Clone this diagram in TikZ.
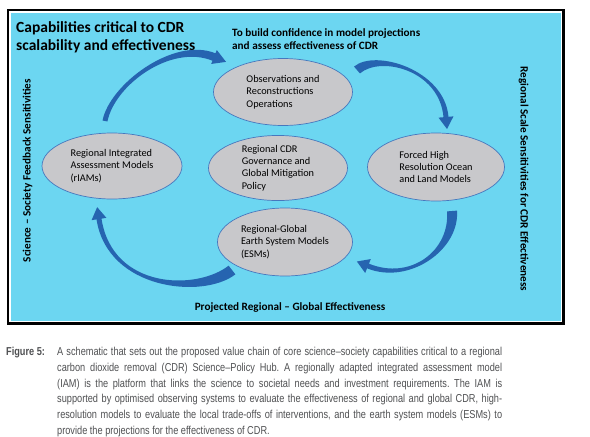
\documentclass[tikz,border=0pt]{standalone}
\usepackage{fontspec}
\setmainfont{Carlito}
\newfontfamily\capfont[FakeStretch=0.8]{Liberation Sans}
\usetikzlibrary{calc,shapes.geometric}
\definecolor{bgblue}{RGB}{108,214,241}
\definecolor{ellfill}{RGB}{200,200,203}
\definecolor{ellline}{RGB}{70,120,190}
\definecolor{arrblue}{RGB}{38,100,176}
\definecolor{capgray}{RGB}{80,81,83}
\newcommand\cdrArrow[5]{%
  \path ($(#1-0)!#2!90:(#1-1)$) coordinate (#1-A0)
        ($(#1-0)!#2!-90:(#1-1)$) coordinate (#1-B0)
        ($(#1-3)!#3!-90:(#1-2)$) coordinate (#1-A3)
        ($(#1-3)!#3!90:(#1-2)$) coordinate (#1-B3)
        ($(#1-3)!#4!-90:(#1-2)$) coordinate (#1-HA)
        ($(#1-3)!#4!90:(#1-2)$) coordinate (#1-HB)
        ($(#1-3)!#5!180:(#1-2)$) coordinate (#1-T);
  \path ($(#1-1)+(#1-A0)-(#1-0)$) coordinate (#1-A1)
        ($(#1-1)+(#1-B0)-(#1-0)$) coordinate (#1-B1)
        ($(#1-2)+(#1-A3)-(#1-3)$) coordinate (#1-A2)
        ($(#1-2)+(#1-B3)-(#1-3)$) coordinate (#1-B2);
  \fill[arrowfill] (#1-A0) .. controls (#1-A1) and (#1-A2) .. (#1-A3) -- (#1-HA) -- (#1-T)
     -- (#1-HB) -- (#1-B3) .. controls (#1-B2) and (#1-B1) .. (#1-B0) -- cycle;
}
\begin{document}
\begin{tikzpicture}[x=1pt,y=-1pt,
  ell/.style={ellipse, draw=ellline, line width=0.7pt, fill=ellfill, inner sep=0pt,
    align=left, font=\fontsize{10.3}{12.4}\selectfont},
  arrowfill/.style={fill=arrblue},
  sidelabel/.style={font=\bfseries\fontsize{11.2}{13}\selectfont, inner sep=0pt},
  captext/.style={font=\capfont\fontsize{11.5}{15.8}\selectfont, text=capgray, inner sep=0pt}]
\useasboundingbox[fill=white] (0,0) rectangle (590,437);
% frame
\draw[line width=2.5pt, fill=white] (7.8,10) rectangle (563.5,323.5);
\fill[bgblue] (10.5,12.5) rectangle (560.5,320.5);
% titles
\node[anchor=north west, inner sep=0pt, align=left, font=\bfseries\fontsize{15.5}{18}\selectfont] (title) at (16,21)
  {Capabilities critical to CDR\\scalability and effectiveness};
\node[anchor=north west, inner sep=0pt, align=left, font=\bfseries\fontsize{11.2}{13}\selectfont] (confid) at (232,28)
  {To build confidence in model projections\\and assess effectiveness of CDR};
\node[sidelabel, rotate=90] (left) at (27.5,170.5) {Science – Society Feedback Sensitivities};
\node[sidelabel, rotate=-90] (right) at (523.5,179) {Regional Scale Sensitivities for CDR Effectiveness};
\node[sidelabel, anchor=base] (bottom) at (290,310) {Projected Regional – Global Effectiveness};
% ellipses
\node[ell, minimum width=139pt, minimum height=67pt] (obs) at (283,92) {Observations and\\Reconstructions\\Operations\hspace*{8pt}};
\node[ell, minimum width=140pt, minimum height=66pt] (riam) at (112,166) {Regional Integrated\\Assessment Models\\(rIAMs)};
\node[ell, minimum width=139pt, minimum height=65pt] (gov) at (278,168) {Regional CDR\\Governance and\\Global Mitigation\\Policy};
\node[ell, minimum width=137pt, minimum height=68pt] (forced) at (436,167) {Forced High\\Resolution Ocean\\and Land Models};
\node[ell, minimum width=135pt, minimum height=68pt] (esm) at (285,242) {Regional-Global\\Earth System Models\\(ESMs)};
% arrows
\coordinate (a1-0) at (105,121); \coordinate (a1-1) at (112,85);
\coordinate (a1-2) at (172,40);  \coordinate (a1-3) at (214,57);
\cdrArrow{a1}{2.5pt}{4pt}{7.5pt}{13pt}
\coordinate (a2-0) at (357,70);  \coordinate (a2-1) at (378,52);
\coordinate (a2-2) at (442,70);  \coordinate (a2-3) at (446,117);
\cdrArrow{a2}{4.5pt}{2.5pt}{7.5pt}{12pt}
\coordinate (a3-0) at (452,211); \coordinate (a3-1) at (455,250);
\coordinate (a3-2) at (410,283); \coordinate (a3-3) at (368,266);
\cdrArrow{a3}{5pt}{2.5pt}{7.5pt}{12pt}
\coordinate (a4-0) at (232,270); \coordinate (a4-1) at (200,295);
\coordinate (a4-2) at (110,290); \coordinate (a4-3) at (99,219);
\cdrArrow{a4}{5.5pt}{2.5pt}{7.5pt}{12pt}
% caption
\node[captext, anchor=north west, font=\capfont\bfseries\fontsize{11.5}{15.8}\selectfont] (fig) at (6,347) {Figure 5:};
\node[captext, anchor=north west, text width=445pt, align=justify] (cap) at (57,347)
  {\frenchspacing\hyphenpenalty=10000 A schematic that sets out the proposed value chain of core science–society capabilities critical to a regional\linebreak
   carbon dioxide removal (CDR) Science–Policy Hub. A regionally adapted integrated assessment model\linebreak
   (IAM) is the platform that links the science to societal needs and investment requirements. The IAM is\linebreak
   supported by optimised observing systems to evaluate the effectiveness of regional and global CDR, high-\linebreak
   resolution models to evaluate the local trade-offs of interventions, and the earth system models (ESMs) to\linebreak
   provide the projections for the effectiveness of CDR.};
\end{tikzpicture}
\end{document}
